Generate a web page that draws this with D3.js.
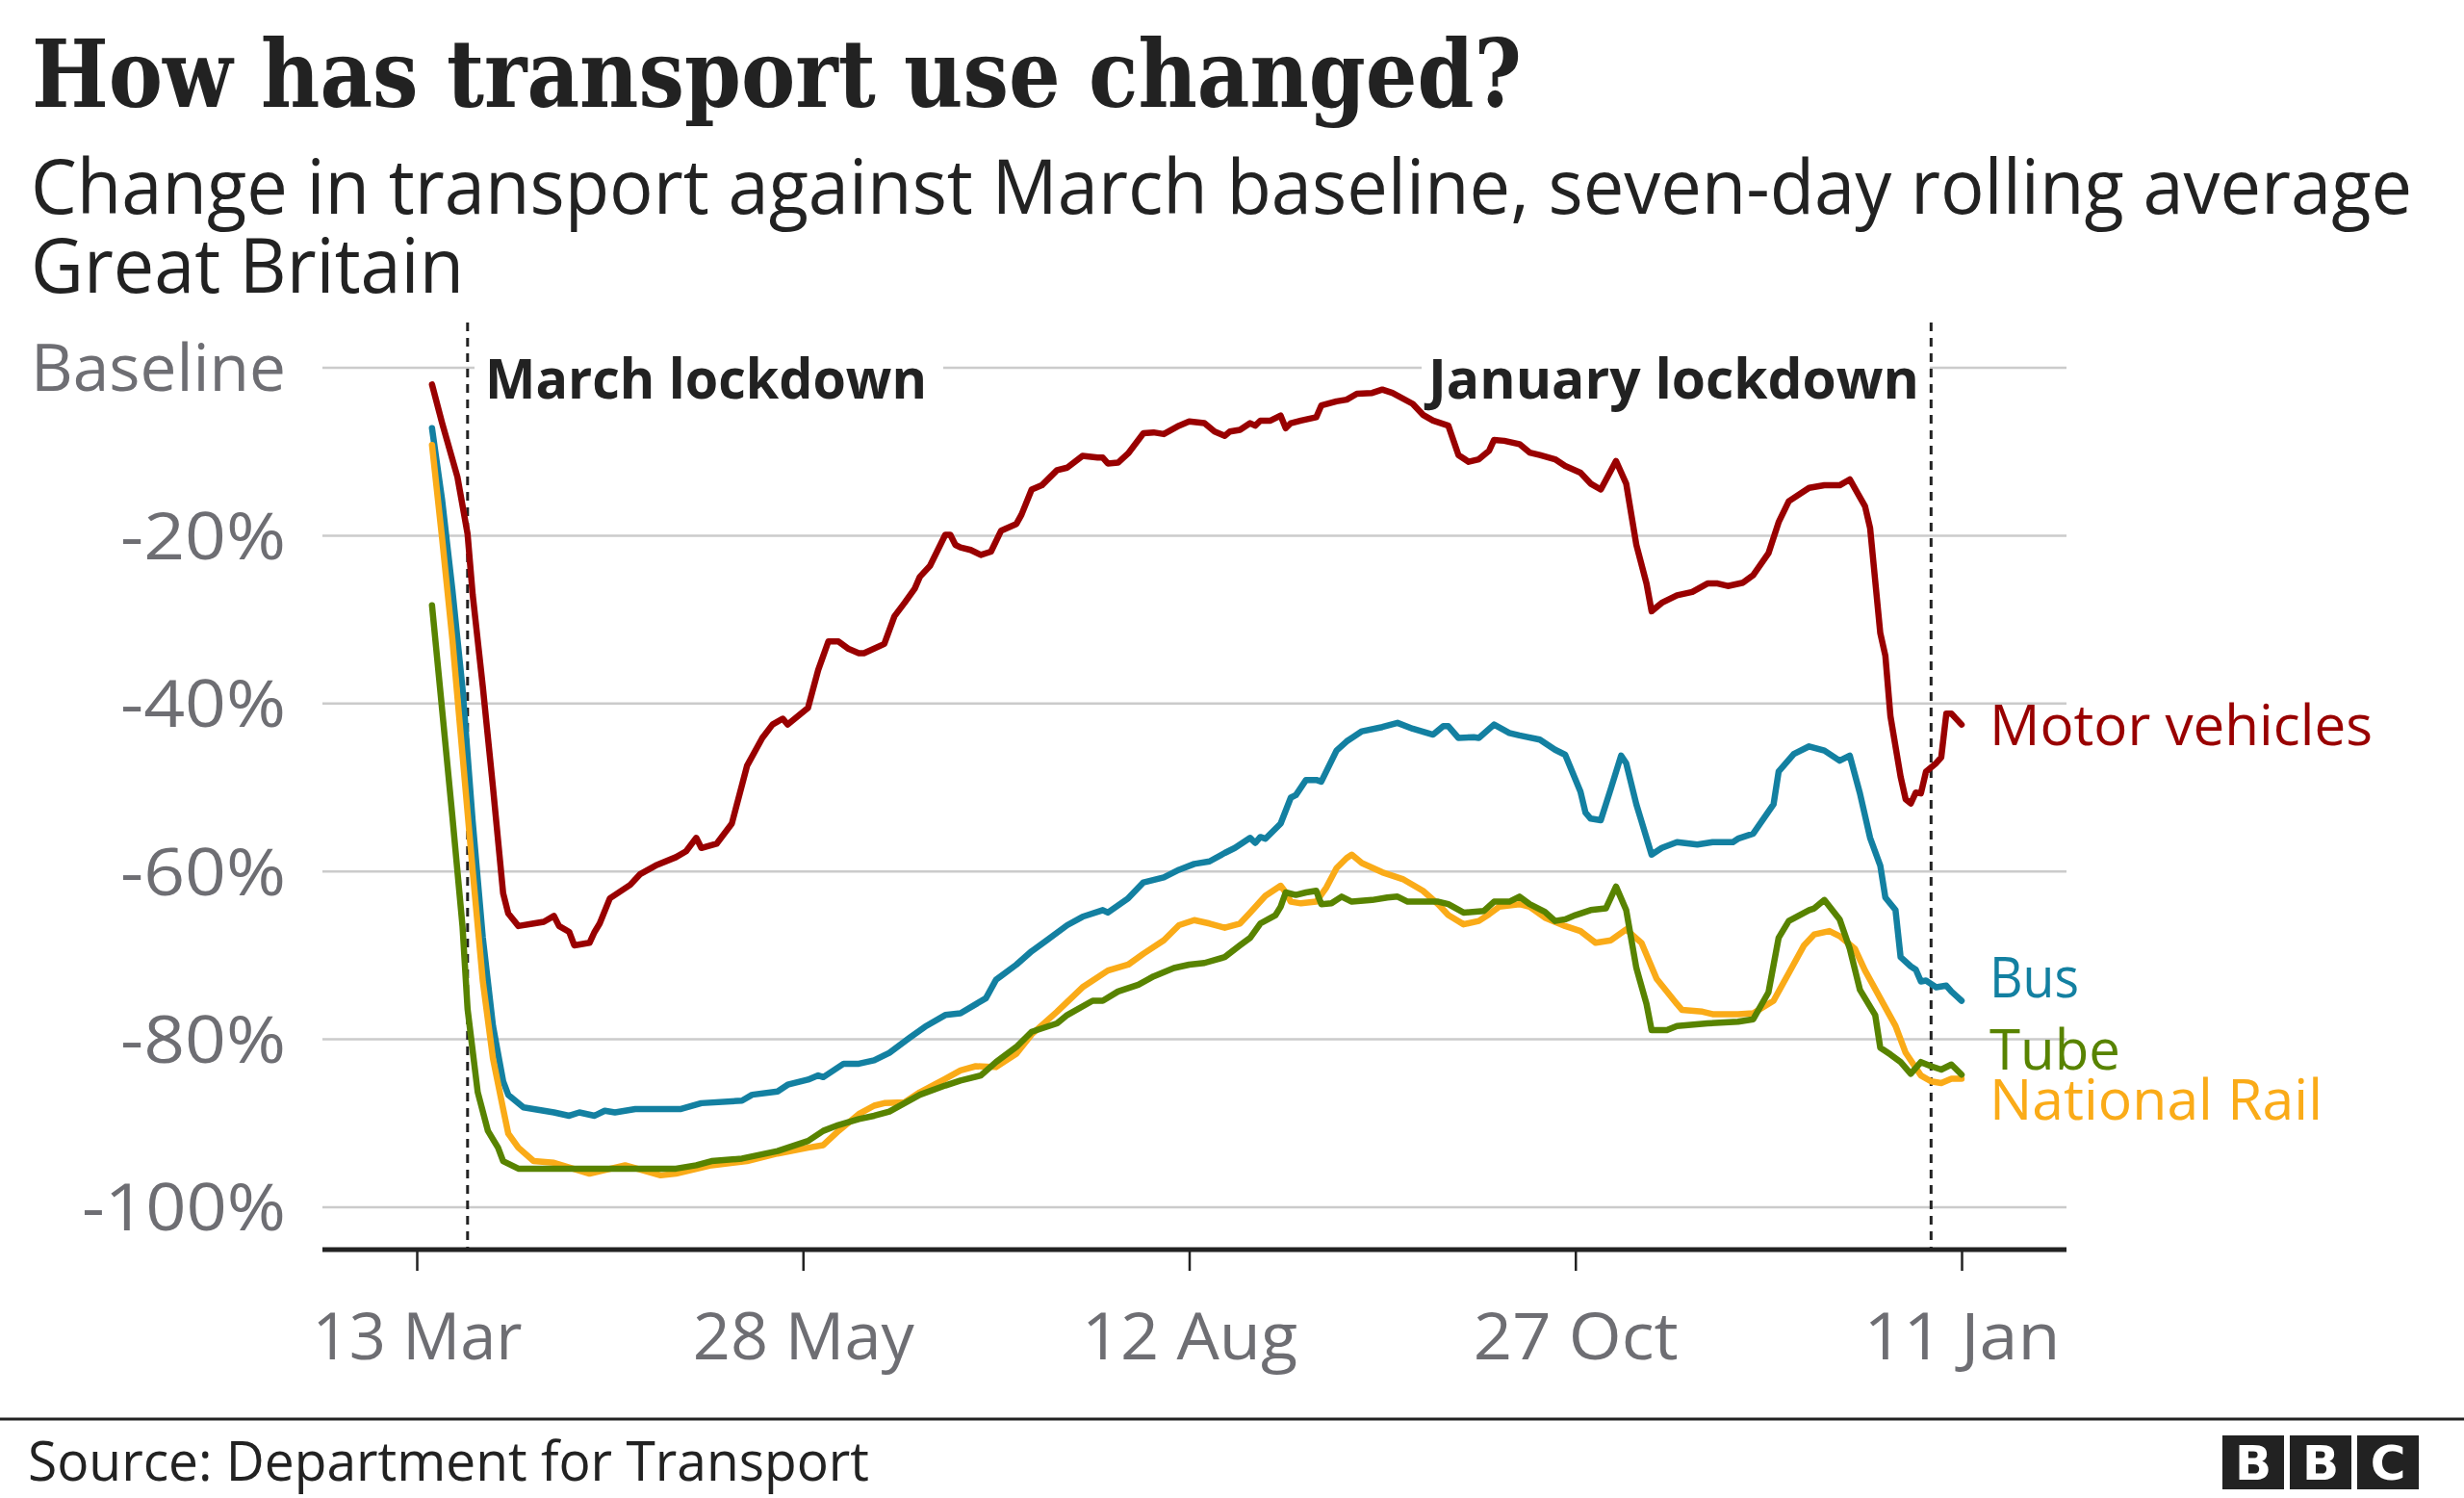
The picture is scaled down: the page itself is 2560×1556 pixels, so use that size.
<!DOCTYPE html>
<html>
<head>
<meta charset="utf-8">
<script src="https://cdn.jsdelivr.net/npm/d3@7"></script>
<style>
  html, body { margin: 0; padding: 0; background: #fff; }
  svg { display: block; }
</style>
</head>
<body>
<svg id="chart" width="2560" height="1556"></svg>
<script>
// ---------------- DATA ----------------
// days since 13 Mar 2020; values = % change against baseline
const xTickDays = [0, 76, 152, 228, 304];
const xTickLabels = ["13 Mar", "28 May", "12 Aug", "27 Oct", "11 Jan"];
const yTickValues = [0, -20, -40, -60, -80, -100];
const yTickLabels = ["Baseline", "-20%", "-40%", "-60%", "-80%", "-100%"];

const lockdownDays = [10, 298];
const lockdownLabels = ["March lockdown", "January lockdown"];

const motorDays = [3,5,8,10,11,13,15,17,18,20,23,25,27,28,30,31,34,35,36,38,42,44,47,51,53,55,56,59,62,65,68,70,72,73,77,79,80,81,83,85,87,88,92,94,96,98,99,101,104,105,106,107,109,111,113,115,118,119,121,123,126,128,131,134,135,136,138,140,143,145,147,150,152,155,157,159,160,162,164,165,166,168,170,171,172,174,177,178,181,183,185,188,190,192,196,198,200,203,205,207,209,211,212,214,217,219,221,224,226,229,231,233,236,238,240,242,243,245,248,251,254,256,258,261,263,266,268,270,274,277,280,282,285,286,288,289,290,292,293,294,295,296,297,299,300,301,302,304];
const motorValues = [-2,-6.6,-13,-19.8,-27,-38,-50,-62.6,-65,-66.5,-66.2,-66,-65.3,-66.5,-67.2,-68.8,-68.5,-67.2,-66.2,-63.2,-61.6,-60.3,-59.3,-58.3,-57.6,-56,-57.2,-56.7,-54.3,-47.4,-44.1,-42.5,-41.8,-42.5,-40.5,-36,-34.3,-32.6,-32.6,-33.5,-34,-34,-32.9,-29.6,-28,-26.3,-24.9,-23.6,-19.9,-19.9,-21.1,-21.4,-21.7,-22.3,-21.9,-19.4,-18.6,-17.5,-14.5,-14,-12.2,-11.9,-10.5,-10.7,-10.7,-11.4,-11.3,-10.2,-7.8,-7.7,-7.9,-6.9,-6.4,-6.6,-7.6,-8.1,-7.6,-7.4,-6.6,-6.9,-6.3,-6.3,-5.7,-7.2,-6.6,-6.3,-5.9,-4.5,-4,-3.8,-3.1,-3,-2.6,-3,-4.3,-5.6,-6.3,-6.9,-10.4,-11.2,-10.9,-9.9,-8.6,-8.7,-9.1,-10.1,-10.4,-10.9,-11.7,-12.5,-13.8,-14.5,-11.1,-13.8,-21.1,-25.7,-29,-28,-27.1,-26.7,-25.7,-25.7,-26,-25.6,-24.7,-22.1,-18.4,-15.9,-14.3,-14,-14,-13.3,-16.5,-19.1,-31.6,-34.3,-41.5,-48.7,-51.4,-51.9,-50.6,-50.7,-48.1,-47.1,-46.4,-41.2,-41.2,-42.5];

const busDays = [3,5,7,9,11,13,15,17,18,21,27,30,32,35,37,39,43,52,56,64,66,71,73,77,79,80,84,87,90,93,97,100,104,107,112,114,118,121,124,128,131,135,136,140,143,147,150,153,156,159,161,164,165,166,167,170,172,173,175,177,178,181,183,186,190,193,196,200,202,203,205,208,209,212,215,217,221,224,226,229,230,231,233,235,237,238,240,241,243,245,248,252,255,259,260,263,267,268,271,274,277,280,282,284,286,288,289,291,292,294,295,296,297,299,301,302,304];
const busValues = [-7.2,-15.8,-26.4,-38.2,-54,-67.9,-78.4,-85,-86.6,-88.1,-88.7,-89.1,-88.7,-89.1,-88.5,-88.7,-88.3,-88.3,-87.6,-87.3,-86.6,-86.2,-85.4,-84.8,-84.3,-84.5,-82.9,-82.9,-82.5,-81.6,-79.8,-78.5,-77.1,-76.9,-75.1,-72.9,-71.1,-69.5,-68.2,-66.4,-65.4,-64.6,-64.9,-63.2,-61.3,-60.7,-59.8,-59.1,-58.8,-57.8,-57.2,-56,-56.6,-55.9,-56.1,-54.3,-51.2,-50.9,-49.1,-49.1,-49.3,-45.6,-44.5,-43.3,-42.8,-42.3,-43,-43.7,-42.7,-42.7,-44.1,-44,-44.1,-42.5,-43.5,-43.8,-44.3,-45.5,-46.1,-50.5,-53,-53.7,-53.9,-50.1,-46.2,-47.1,-52,-54,-58,-57.2,-56.5,-56.8,-56.5,-56.5,-56.1,-55.5,-52,-48.1,-46,-45.1,-45.6,-46.8,-46.2,-50.7,-56,-59.3,-63.1,-64.6,-70.2,-71.3,-71.7,-73.1,-73,-73.8,-73.6,-74.3,-75.4];

const tubeDays = [3,5,7,9,10,12,14,16,17,20,33,51,55,58,64,71,77,80,83,87,90,93,96,99,104,107,111,114,118,121,126,128,133,135,138,142,145,149,152,155,159,162,164,166,169,170,171,173,175,177,178,180,182,184,188,191,193,195,201,203,206,210,212,215,217,219,222,224,226,228,231,234,236,238,240,242,243,246,248,254,260,263,266,268,270,274,275,277,280,282,284,287,288,290,292,294,296,298,300,302,304];
const tubeValues = [-28.3,-40.8,-53.4,-66.5,-76.4,-86.3,-90.9,-92.9,-94.5,-95.4,-95.4,-95.4,-95,-94.5,-94.2,-93.3,-92.1,-90.9,-90.2,-89.5,-89.1,-88.6,-87.6,-86.6,-85.5,-84.9,-84.3,-82.7,-80.9,-79.1,-78.1,-77.1,-75.4,-75.4,-74.3,-73.5,-72.5,-71.5,-71.1,-70.9,-70.2,-68.8,-67.9,-66.2,-65.2,-64.2,-62.5,-62.8,-62.5,-62.3,-63.9,-63.8,-63,-63.6,-63.4,-63.1,-63,-63.6,-63.6,-63.9,-64.9,-64.7,-63.6,-63.6,-63,-63.9,-64.8,-65.9,-65.7,-65.2,-64.6,-64.4,-61.8,-64.6,-71.5,-75.8,-78.9,-78.9,-78.4,-78.1,-77.9,-77.6,-74.4,-67.9,-65.9,-64.6,-64.4,-63.4,-65.7,-69.2,-74.1,-77.1,-81,-81.8,-82.7,-84.1,-82.7,-83.2,-83.6,-83,-84.2];

const railDays = [3,5,7,9,11,13,15,17,18,20,23,27,34,41,48,51,58,65,71,77,80,83,87,90,92,96,99,104,107,110,114,118,121,126,131,136,140,143,147,150,153,156,159,162,164,167,170,171,172,174,177,179,181,183,184,186,190,194,198,201,203,206,209,211,213,217,219,222,226,229,232,235,238,241,244,248,249,253,255,260,263,267,270,273,275,278,280,283,285,288,291,293,296,298,300,302,304];
const railValues = [-9.2,-20.4,-32.3,-46.1,-59.9,-73.1,-82.3,-88.3,-91.2,-92.9,-94.5,-94.7,-96,-95,-96.2,-96,-95,-94.5,-93.6,-92.9,-92.6,-90.9,-88.9,-87.9,-87.6,-87.5,-86.3,-84.7,-83.7,-83.2,-83.3,-81.7,-79.4,-76.7,-73.8,-71.8,-71.1,-69.8,-68.2,-66.4,-65.8,-66.2,-66.7,-66.2,-64.9,-62.9,-61.7,-62.5,-63.6,-63.8,-63.6,-61.9,-59.6,-58.4,-58,-59,-60.1,-60.9,-62.3,-63.9,-65.2,-66.3,-65.9,-65.1,-64.2,-63.9,-64.2,-65.5,-66.5,-67.1,-68.5,-68.2,-66.9,-68.5,-72.8,-75.8,-76.5,-76.7,-77,-77,-76.9,-75.4,-72.1,-68.8,-67.5,-67.1,-67.7,-69.2,-71.8,-75.1,-78.4,-81.6,-84.3,-85,-85.2,-84.7,-84.7];

const seriesNames = ["Bus", "National Rail", "Tube", "Motor vehicles"];

// ---------------- CHART ----------------
const svg = d3.select("#chart");
const W = 2560, H = 1556;
const SANS = "'Open Sans', 'Noto Sans', sans-serif";
const start = new Date(2020, 2, 13);
const toDate = d => d3.timeDay.offset(start, d);

const x = d3.scaleTime().domain([toDate(0), toDate(304)]).range([433, 2038]);
const y = d3.scaleLinear().domain([0, -100]).range([382, 1254]);
const plotLeft = 335, plotRight = 2147, axisY = 1298;

const series = [
  {name: "Bus", days: busDays, values: busValues, color: "#1380A1", labelY: 1016},
  {name: "National Rail", days: railDays, values: railValues, color: "#FAAB18", labelY: 1143},
  {name: "Tube", days: tubeDays, values: tubeValues, color: "#588300", labelY: 1091},
  {name: "Motor vehicles", days: motorDays, values: motorValues, color: "#990000", labelY: 754}
];

function squeeze(sel, target) {
  sel.attr("textLength", target).attr("lengthAdjust", "spacingAndGlyphs");
}

// Title & subtitles
const title = svg.append("text").attr("x", 33).attr("y", 111)
  .attr("font-family", "'DejaVu Serif', serif").attr("font-weight", "bold")
  .attr("font-size", 98).attr("fill", "#222").text("How has transport use changed?");
squeeze(title, 1548);

const sub1 = svg.append("text").attr("x", 32).attr("y", 222)
  .attr("font-family", SANS).attr("font-size", 78).attr("fill", "#222")
  .text("Change in transport against March baseline, seven-day rolling average");
squeeze(sub1, 2474);
const sub2 = svg.append("text").attr("x", 32).attr("y", 304)
  .attr("font-family", SANS).attr("font-size", 78).attr("fill", "#222")
  .text("Great Britain");
squeeze(sub2, 450);

// gridlines
svg.append("g").selectAll("line").data(yTickValues).join("line")
  .attr("x1", plotLeft).attr("x2", plotRight)
  .attr("y1", d => y(d)).attr("y2", d => y(d))
  .attr("stroke", "#cbcbcb").attr("stroke-width", 2.5);

// y axis labels
const yAxis = d3.axisLeft(y).tickValues(yTickValues)
  .tickFormat((d, i) => yTickLabels[i]).tickSize(0).tickPadding(38);
const gy = svg.append("g").attr("transform", `translate(${plotLeft},0)`).call(yAxis);
gy.select(".domain").remove();
gy.selectAll("text").attr("font-family", SANS).attr("font-size", 68)
  .attr("fill", "#6e6e73").attr("dy", "0.35em")
  .each(function(d, i) {
    const target = [265, 172, 172, 172, 172, 212][i];
    squeeze(d3.select(this), target);
  });

// x axis
const xAxis = d3.axisBottom(x).tickValues(xTickDays.map(toDate))
  .tickFormat((d, i) => xTickLabels[i]).tickSize(22);
const gx = svg.append("g").attr("transform", `translate(0,${axisY})`).call(xAxis);
gx.select(".domain").remove();
gx.selectAll(".tick line").attr("stroke", "#222").attr("stroke-width", 2.5);
gx.selectAll("text").attr("font-family", SANS).attr("font-size", 68)
  .attr("fill", "#6e6e73").attr("y", 90).attr("dy", "0.35em")
  .each(function(d, i) {
    const target = [218, 230, 224, 213, 204][i];
    squeeze(d3.select(this), target);
  });
svg.append("line").attr("x1", plotLeft).attr("x2", plotRight)
  .attr("y1", axisY).attr("y2", axisY).attr("stroke", "#222").attr("stroke-width", 5);

// lockdown annotations
const annG = svg.append("g");
const mText = annG.append("text").attr("x", 504).attr("y", 414)
  .attr("font-family", SANS).attr("font-weight", "bold").attr("font-size", 58)
  .attr("fill", "#222").text(lockdownLabels[0]);
squeeze(mText, 459);
const jText = annG.append("text").attr("x", 1994).attr("y", 414)
  .attr("text-anchor", "end")
  .attr("font-family", SANS).attr("font-weight", "bold").attr("font-size", 58)
  .attr("fill", "#222").text(lockdownLabels[1]);
squeeze(jText, 510);
annG.insert("rect", "text").attr("x", 493).attr("y", 355).attr("width", 487).attr("height", 60).attr("fill", "#fff");
annG.insert("rect", "text").attr("x", 1477).attr("y", 355).attr("width", 528).attr("height", 60).attr("fill", "#fff");

svg.append("g").selectAll("line").data(lockdownDays).join("line")
  .attr("x1", d => x(toDate(d))).attr("x2", d => x(toDate(d)))
  .attr("y1", 335).attr("y2", axisY)
  .attr("stroke", "#222").attr("stroke-width", 3).attr("stroke-dasharray", "9,7");

// series lines
const line = d3.line().x(p => x(toDate(p[0]))).y(p => y(p[1])).curve(d3.curveLinear);
svg.append("g").selectAll("path").data(series).join("path")
  .attr("d", s => line(s.days.map((d, i) => [d, s.values[i]])))
  .attr("fill", "none").attr("stroke", s => s.color).attr("stroke-width", 6.5)
  .attr("stroke-linejoin", "round").attr("stroke-linecap", "round");

// series labels
const labelWidths = {"Motor vehicles": 398, "Bus": 93, "Tube": 136, "National Rail": 346};
svg.append("g").selectAll("text").data(series).join("text")
  .attr("x", 2067).attr("y", s => s.labelY).attr("dy", "0.35em")
  .attr("font-family", SANS).attr("font-size", 58).attr("fill", s => s.color)
  .text(s => s.name)
  .each(function(s) { squeeze(d3.select(this), labelWidths[s.name]); });

// footer
svg.append("line").attr("x1", 0).attr("x2", W).attr("y1", 1474).attr("y2", 1474)
  .attr("stroke", "#222").attr("stroke-width", 3);
const src = svg.append("text").attr("x", 29).attr("y", 1518).attr("dy", "0.35em")
  .attr("font-family", SANS).attr("font-size", 56).attr("fill", "#222")
  .text("Source: Department for Transport");
squeeze(src, 874);

const bbc = svg.append("g");
["B", "B", "C"].forEach((ch, i) => {
  const bx = 2309 + i * 70;
  bbc.append("rect").attr("x", bx).attr("y", 1491).attr("width", 64).attr("height", 56).attr("fill", "#222");
  bbc.append("text").attr("x", bx + 32).attr("y", 1519).attr("dy", "0.36em")
    .attr("text-anchor", "middle").attr("font-family", "'DejaVu Sans', sans-serif")
    .attr("font-weight", "bold").attr("font-size", 50).attr("fill", "#fff").text(ch);
});
</script>
</body>
</html>
